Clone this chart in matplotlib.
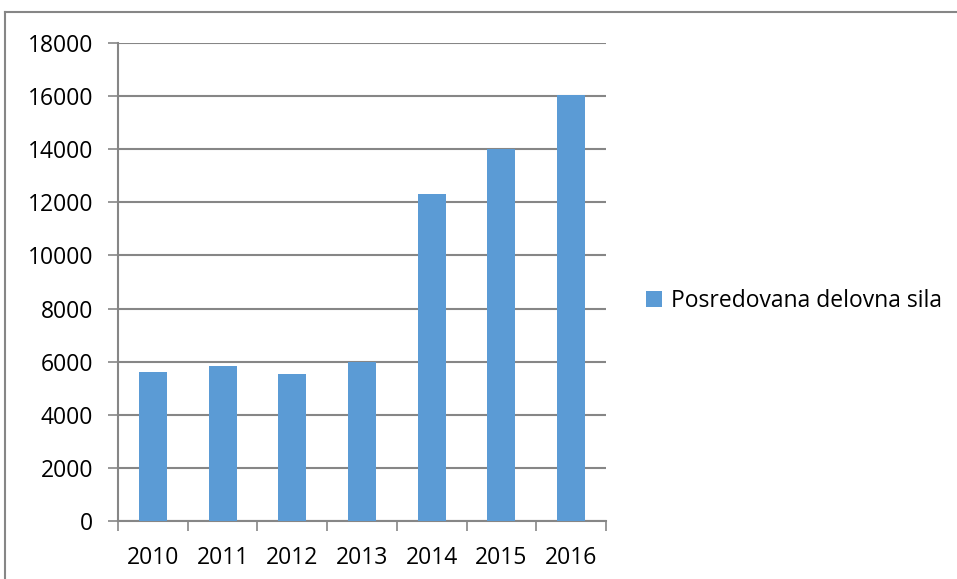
import matplotlib.pyplot as plt
from matplotlib.lines import Line2D
from matplotlib.patches import Patch

# posredovana delovna sila po letih
years = ["2010", "2011", "2012", "2013", "2014", "2015", "2016"]
values = [5620, 5850, 5550, 6000, 12300, 14000, 16060]
series_name = "Posredovana delovna sila"

bar_color = "#5B9BD5"
grid_color = "#868686"
font_size = 16.5

plt.rcParams["font.family"] = ["Open Sans", "DejaVu Sans"]

fig = plt.figure(figsize=(9.57, 5.79), dpi=100)
ax = fig.add_axes([118 / 957, 58 / 579, 488 / 957, 478 / 579])

x = list(range(len(years)))
ax.bar(x, values, width=0.40, color=bar_color, zorder=3)

ax.set_xlim(-0.5, len(years) - 0.5)
ax.set_ylim(0, 18000)
ax.set_yticks(range(0, 18001, 2000))
ax.yaxis.grid(True, color=grid_color, linewidth=1.5, zorder=0)

# category labels centered, tick marks between categories
ax.set_xticks(x)
ax.set_xticklabels(years, fontsize=font_size)
ax.tick_params(axis="x", length=0, pad=18)
ax.set_xticks([i - 0.5 for i in range(len(years) + 1)], minor=True)
ax.tick_params(axis="x", which="minor", length=7, width=1.2, color=grid_color, direction="out")
ax.tick_params(axis="y", length=7, width=1.2, color=grid_color, direction="out",
               labelsize=font_size, pad=11)

for side in ("top", "right"):
    ax.spines[side].set_visible(False)
for side in ("left", "bottom"):
    ax.spines[side].set_color(grid_color)
    ax.spines[side].set_linewidth(1.5)

handle = Patch(facecolor=bar_color, edgecolor="none")
fig.legend([handle], [series_name], loc="center left",
           bbox_to_anchor=(625 / 957, 1 - 301 / 579), frameon=False,
           fontsize=font_size, handlelength=0.7, handleheight=0.7, handletextpad=0.4)

# chart frame
fig.add_artist(Line2D([5 / 957, 5 / 957], [0, 1 - 12 / 579], transform=fig.transFigure,
                      color=grid_color, linewidth=1.5))
fig.add_artist(Line2D([5 / 957, 1], [1 - 12 / 579, 1 - 12 / 579], transform=fig.transFigure,
                      color=grid_color, linewidth=1.5))

fig.savefig("out.png", dpi=100)
